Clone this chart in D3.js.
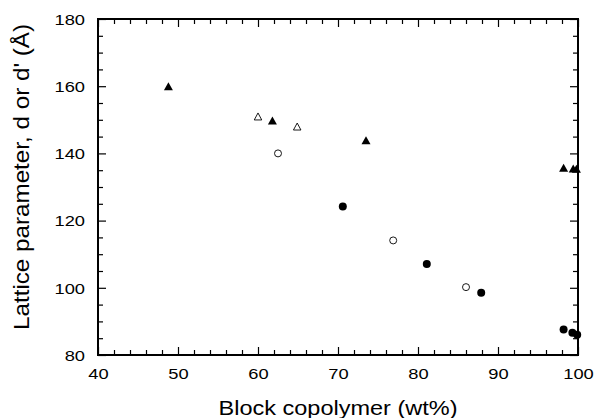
<!DOCTYPE html>
<html>
<head>
<meta charset="utf-8">
<script src="https://cdn.jsdelivr.net/npm/d3@7"></script>
<style>
  body { margin: 0; background: #fff; }
  text { font-family: "Liberation Sans", Arial, sans-serif; fill: #000; }
</style>
</head>
<body>
<div id="chart"></div>
<script>
// Lattice parameter vs block copolymer content, four marker series.
const filledTriX = [48.8, 61.8, 73.5, 98.2, 99.4, 99.8];
const filledTriY = [160, 149.8, 143.9, 135.7, 135.5, 135.4];
const openTriX = [60.0, 64.9];
const openTriY = [151.0, 148.0];
const openCircX = [62.5, 76.9, 86.0];
const openCircY = [140, 114.1, 100.2];
const filledCircX = [70.6, 81.1, 87.9, 98.2, 99.3, 99.9];
const filledCircY = [124.2, 107.1, 98.5, 87.6, 86.6, 86.0];

const xTicks = [40, 50, 60, 70, 80, 90, 100];
const yTicks = [80, 100, 120, 140, 160, 180];

const W = 595, H = 418;
const M = { left: 98, right: 17, top: 19, bottom: 63 };
const IW = W - M.left - M.right, IH = H - M.top - M.bottom;

const svg = d3.select("#chart").append("svg")
    .attr("width", W).attr("height", H);

const g = svg.append("g").attr("transform", `translate(${M.left},${M.top})`);

const x = d3.scaleLinear().domain([40, 100]).range([0, IW]);
const y = d3.scaleLinear().domain([80, 180]).range([IH, 0]);

const xMinor = d3.range(40, 100.1, 2).filter(v => v % 10 !== 0);
const yMinor = d3.range(80, 180.1, 5).filter(v => v % 20 !== 0);

const styleAxis = sel => {
    sel.select(".domain").remove();
    sel.selectAll("line").attr("stroke", "#000").attr("stroke-width", 1.2);
};

// Major and minor ticks on all four sides, pointing inward.
const addAxis = (axis, transform, values, size, labels) => {
    const a = g.append("g").attr("transform", transform)
        .call(axis.tickValues(values).tickSizeInner(-size).tickSizeOuter(0)
            .tickFormat(labels ? d3.format("d") : ""));
    styleAxis(a);
    return a;
};

const bottom = addAxis(d3.axisBottom(x), `translate(0,${IH})`, xTicks, 8, true);
addAxis(d3.axisBottom(x), `translate(0,${IH})`, xMinor, 5, false);
addAxis(d3.axisTop(x), "translate(0,0)", xTicks, 8, false);
addAxis(d3.axisTop(x), "translate(0,0)", xMinor, 5, false);
const left = addAxis(d3.axisLeft(y), "translate(0,0)", yTicks, 8, true);
addAxis(d3.axisLeft(y), "translate(0,0)", yMinor, 5, false);
addAxis(d3.axisRight(y), `translate(${IW},0)`, yTicks, 8, false);
addAxis(d3.axisRight(y), `translate(${IW},0)`, yMinor, 5, false);

bottom.selectAll("text")
    .attr("y", 13).attr("dy", "0.71em")
    .style("font-size", "15.5px")
    .attr("transform", "scale(1.18,1)");
left.selectAll("text")
    .attr("x", -13 / 1.18).attr("dy", "0.34em")
    .style("font-size", "15.5px")
    .attr("transform", "scale(1.18,1)");

g.append("rect")
    .attr("width", IW).attr("height", IH)
    .attr("fill", "none").attr("stroke", "#000").attr("stroke-width", 2);

// Triangle centred on its bounding box.
const tri = (w, h) => `M0,${-h / 2}L${w / 2},${h / 2}L${-w / 2},${h / 2}Z`;

const pts = (xs, ys) => xs.map((v, i) => ({ x: v, y: ys[i] }));

g.selectAll(".ftri").data(pts(filledTriX, filledTriY)).join("path")
    .attr("d", tri(9, 8))
    .attr("transform", d => `translate(${x(d.x)},${y(d.y)})`)
    .attr("fill", "#000");

g.selectAll(".otri").data(pts(openTriX, openTriY)).join("path")
    .attr("d", tri(7.5, 7))
    .attr("transform", d => `translate(${x(d.x)},${y(d.y)})`)
    .attr("fill", "#fff").attr("stroke", "#000").attr("stroke-width", 0.9);

g.selectAll(".ocirc").data(pts(openCircX, openCircY)).join("circle")
    .attr("cx", d => x(d.x)).attr("cy", d => y(d.y)).attr("r", 3.5)
    .attr("fill", "#fff").attr("stroke", "#000").attr("stroke-width", 0.9);

g.selectAll(".fcirc").data(pts(filledCircX, filledCircY)).join("circle")
    .attr("cx", d => x(d.x)).attr("cy", d => y(d.y)).attr("r", 4)
    .attr("fill", "#000");

svg.append("text")
    .attr("x", M.left + IW / 2).attr("y", 415)
    .attr("text-anchor", "middle")
    .attr("textLength", 239).attr("lengthAdjust", "spacingAndGlyphs")
    .style("font-size", "21px")
    .text("Block copolymer (wt%)");

svg.append("text")
    .attr("transform", "translate(28.5,177) rotate(-90)")
    .attr("text-anchor", "middle")
    .attr("textLength", 306).attr("lengthAdjust", "spacingAndGlyphs")
    .style("font-size", "22px")
    .text("Lattice parameter, d or d' (Å)");
</script>
</body>
</html>
